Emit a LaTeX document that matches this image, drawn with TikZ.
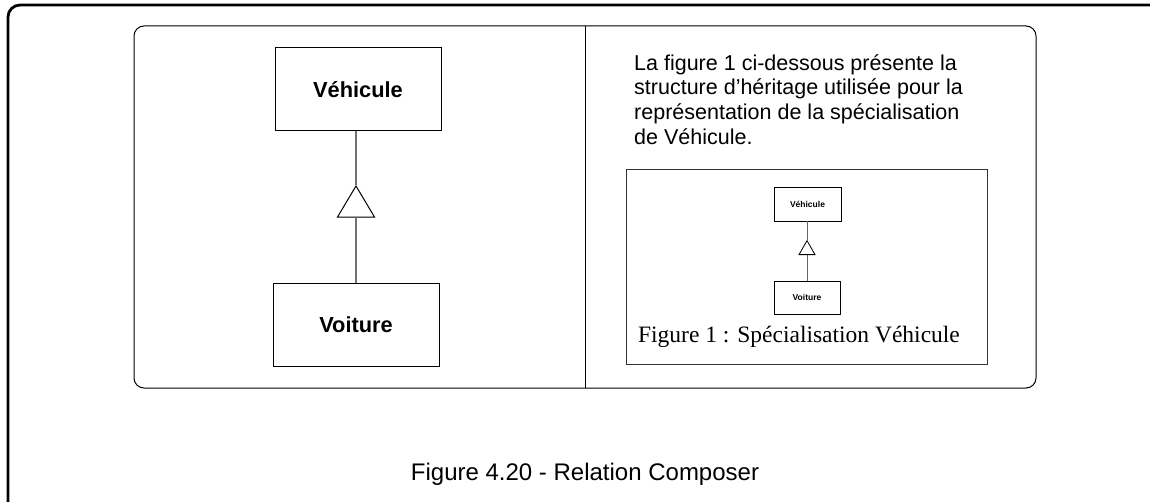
\documentclass[tikz,border=0pt]{standalone}
\usepackage{fontspec}
\setmainfont{Liberation Sans}
\newfontfamily\timesf{Liberation Serif}
\usetikzlibrary{shapes.geometric}
\begin{document}
\begin{tikzpicture}[x=1pt,y=-1pt,
  bigbox/.style={draw, line width=1pt, minimum width=166pt, minimum height=83pt, inner sep=0pt, font=\fontsize{21.8}{24}\selectfont\bfseries},
  smallbox/.style={draw, line width=0.8pt, minimum width=67pt, minimum height=34pt, inner sep=0pt, font=\fontsize{8.5}{10}\selectfont\bfseries},
  conn/.style={draw=black!55, line width=1.3pt},
  sconn/.style={draw=black!60, line width=1pt},
  tri/.style={isosceles triangle, shape border rotate=90, isosceles triangle stretches, draw, fill=white, line width=1pt, inner sep=0pt}
]
\useasboundingbox (0,0) rectangle (1150,502);
% outer frame
\draw[line width=2.8pt, rounded corners=12pt] (8,520) -- (8,5) -- (1170,5);
% inner rounded panel
\draw[line width=1pt, rounded corners=10pt] (134,26) rectangle (1036,388);
\draw[line width=1pt] (585,26) -- (585,388);
% big diagram
\node[bigbox] (veh) at (358,89.5) {Véhicule};
\node[bigbox, minimum height=82pt] (voi) at (356,325) {Voiture};
\node[tri, minimum height=31pt, minimum width=37pt] (t) at (356,206.5) {};
\draw[conn] (t.apex) -- (t.apex |- veh.south);
\draw[conn] (t.lower side) -- (t.lower side |- voi.north);
% right text
\node[anchor=north west, align=left, inner sep=0pt, font=\fontsize{21.5}{24.8}\selectfont] (txt) at (634,54)
  {La figure 1 ci-dessous présente la\\structure d’héritage utilisée pour la\\représentation de la spécialisation\\de Véhicule.};
% small figure frame
\node[draw=black!80, line width=1pt, minimum width=361pt, minimum height=194pt, inner sep=0pt] (fr) at (806.5,267) {};
\node[smallbox] (sveh) at (807.5,204) {Véhicule};
\node[smallbox, minimum width=66pt, minimum height=33pt] (svoi) at (807,297.5) {Voiture};
\node[tri, line width=0.8pt, minimum height=14pt, minimum width=16pt] (st) at (807,250) {};
\draw[sconn] (st.apex) -- (st.apex |- sveh.south);
\draw[sconn] (st.lower side) -- (st.lower side |- svoi.north);
\node[font=\timesf\fontsize{23.5}{26}\selectfont, inner sep=0pt] (fig1) at (799,337) {Figure 1 : Spécialisation Véhicule};
% caption
\node[font=\fontsize{24}{28}\selectfont, inner sep=0pt] (cap) at (585,474) {Figure 4.20 - Relation Composer};
\end{tikzpicture}
\end{document}
